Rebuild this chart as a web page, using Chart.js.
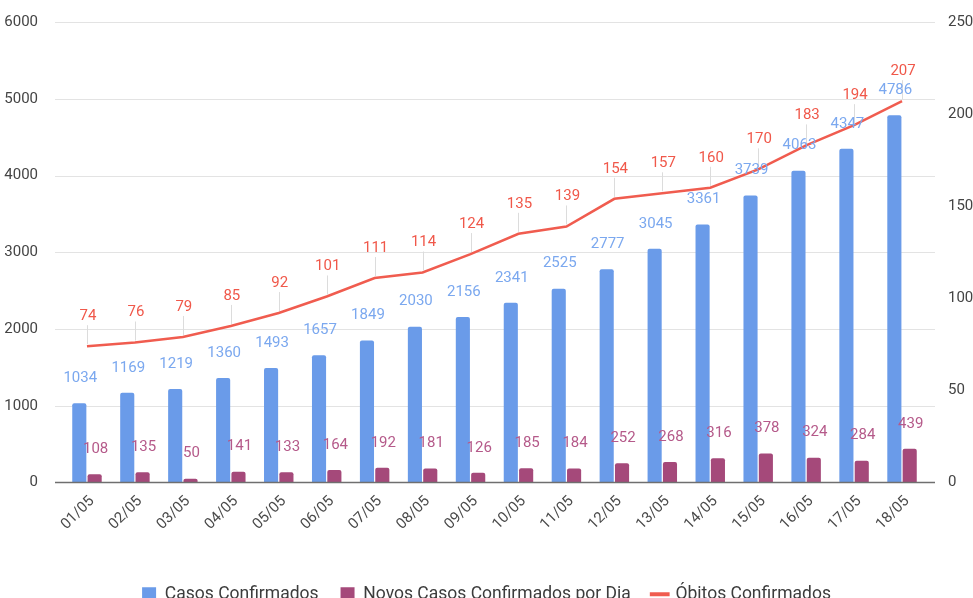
<!DOCTYPE html>
<html><head><meta charset="utf-8">
<script src="https://cdn.jsdelivr.net/npm/chart.js@4"></script>
<style>html,body{margin:0;padding:0;background:#fff;overflow:hidden}#wrap{width:973px;height:598px;position:relative}</style>
</head><body><div id="wrap"><canvas id="c"></canvas></div>
<script>
const categories = ['01/05','02/05','03/05','04/05','05/05','06/05','07/05','08/05','09/05','10/05','11/05','12/05','13/05','14/05','15/05','16/05','17/05','18/05'];
const casosConfirmados = [1034,1169,1219,1360,1493,1657,1849,2030,2156,2341,2525,2777,3045,3361,3739,4063,4347,4786];
const novosCasos = [108,135,50,141,133,164,192,181,126,185,184,252,268,316,378,324,284,439];
const obitos = [74,76,79,85,92,101,111,114,124,135,139,154,157,160,170,183,194,207];
const seriesNames = ['Casos Confirmados','Novos Casos Confirmados por Dia','Óbitos Confirmados'];
const leftAxis = {min:0, max:6000, step:1000};
const rightAxis = {min:0, max:250, step:50};

const C_BLUE = '#6a9be9', C_PURPLE = '#a5497a', C_RED = '#f05c4f';
const L_BLUE = '#7ba8ef', L_PURPLE = '#b55a8a', L_RED = '#f0584a';
const FONT = 'Roboto, "Noto Sans", sans-serif';

const gridPlugin = {
  id: 'gridExt',
  beforeDatasetsDraw(chart) {
    const ctx = chart.ctx, y = chart.scales.y;
    const x0 = chart.chartArea.left - 8, x1 = chart.chartArea.right + 9;
    ctx.save();
    ctx.strokeStyle = '#e3e3e3'; ctx.lineWidth = 1;
    y.ticks.forEach(t => {
      if (t.value === 0) return;
      const py = Math.round(y.getPixelForValue(t.value)) + 0.5;
      ctx.beginPath(); ctx.moveTo(x0, py); ctx.lineTo(x1, py); ctx.stroke();
    });
    ctx.restore();
  },
  afterDatasetsDraw(chart) {
    const ctx = chart.ctx, y = chart.scales.y;
    const x0 = chart.chartArea.left - 8, x1 = chart.chartArea.right + 9;
    ctx.save();
    ctx.strokeStyle = '#6f6f6f'; ctx.lineWidth = 1.5;
    const py = y.getPixelForValue(0);
    ctx.beginPath(); ctx.moveTo(x0, py); ctx.lineTo(x1, py); ctx.stroke();
    ctx.font = '15px ' + FONT;
    ctx.textAlign = 'center'; ctx.textBaseline = 'middle';
    const mBlue = chart.getDatasetMeta(0), mPurple = chart.getDatasetMeta(1), mRed = chart.getDatasetMeta(2);
    mRed.data.forEach((pt) => {
      ctx.strokeStyle = '#dcdcdc'; ctx.lineWidth = 1;
      ctx.beginPath(); ctx.moveTo(Math.round(pt.x)+0.5, pt.y - 21); ctx.lineTo(Math.round(pt.x)+0.5, pt.y - 2); ctx.stroke();
    });
    mBlue.data.forEach((b, i) => { ctx.fillStyle = L_BLUE; ctx.fillText(String(casosConfirmados[i]), b.x + 1, b.y - 25); });
    mPurple.data.forEach((b, i) => { ctx.fillStyle = L_PURPLE; ctx.fillText(String(novosCasos[i]), b.x + 1, b.y - 25); });
    mRed.data.forEach((pt, i) => { ctx.fillStyle = L_RED; ctx.fillText(String(obitos[i]), pt.x + 1, pt.y - 30); });
    ctx.restore();
  }
};

new Chart(document.getElementById('c'), {
  type: 'bar',
  data: {
    labels: categories,
    datasets: [
      {label: seriesNames[0], data: casosConfirmados, backgroundColor: C_BLUE, yAxisID: 'y', categoryPercentage: 0.64, barPercentage: 0.92, borderRadius: {topLeft:2, topRight:2}, borderSkipped: 'bottom'},
      {label: seriesNames[1], data: novosCasos, backgroundColor: C_PURPLE, yAxisID: 'y', categoryPercentage: 0.64, barPercentage: 0.92, borderRadius: {topLeft:2, topRight:2}, borderSkipped: 'bottom'},
      {label: seriesNames[2], data: obitos, type: 'line', borderColor: C_RED, backgroundColor: C_RED, borderWidth: 2.5, pointRadius: 0, tension: 0, yAxisID: 'y1', order: -1}
    ]
  },
  options: {
    responsive: true, maintainAspectRatio: false, animation: false,
    layout: {padding: {top: 22, bottom: -15, left: 0, right: 0}},
    plugins: {
      tooltip: {enabled: false},
      legend: {
        position: 'bottom',
        labels: {
          usePointStyle: true, boxWidth: 14, boxHeight: 14, padding: 22,
          font: {family: FONT, size: 17.5}, color: '#3c3c3c',
          generateLabels() {
            return [
              {text: seriesNames[0], fillStyle: C_BLUE, strokeStyle: C_BLUE, lineWidth: 0, pointStyle: 'rect', datasetIndex: 0, fontColor: '#3c3c3c'},
              {text: seriesNames[1], fillStyle: C_PURPLE, strokeStyle: C_PURPLE, lineWidth: 0, pointStyle: 'rect', datasetIndex: 1, fontColor: '#3c3c3c'},
              {text: seriesNames[2], fillStyle: C_RED, strokeStyle: C_RED, lineWidth: 4, pointStyle: 'line', datasetIndex: 2, fontColor: '#3c3c3c'}
            ];
          }
        }
      }
    },
    scales: {
      x: {
        grid: {display: false}, border: {display: false},
        ticks: {font: {family: FONT, size: 15}, color: '#4a4a4a', maxRotation: 45, minRotation: 45, autoSkip: false, padding: 2, labelOffset: 5},
        afterFit(s) { s.height = 81; }
      },
      y: {
        position: 'left', min: leftAxis.min, max: leftAxis.max,
        grid: {display: false}, border: {display: false},
        ticks: {stepSize: leftAxis.step, font: {family: FONT, size: 15}, color: '#444', padding: 17, callback: v => String(v)},
        afterFit(s) { s.width = 63; s.paddingTop = 0; s.paddingBottom = 0; }
      },
      y1: {
        position: 'right', min: rightAxis.min, max: rightAxis.max,
        grid: {display: false}, border: {display: false},
        ticks: {stepSize: rightAxis.step, font: {family: FONT, size: 15}, color: '#444', padding: 14, callback: v => String(v)},
        afterFit(s) { s.width = 47; s.paddingTop = 0; s.paddingBottom = 0; }
      }
    }
  },
  plugins: [gridPlugin]
});
</script>
</body></html>
